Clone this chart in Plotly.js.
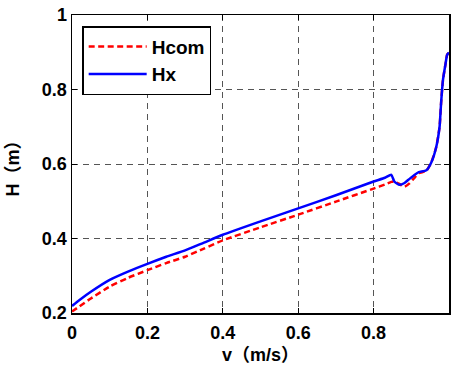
<!DOCTYPE html>
<html>
<head>
<meta charset="utf-8">
<script src="https://cdn.plot.ly/plotly-3.0.1.min.js"></script>
<style>html,body{margin:0;padding:0;background:#fff;}#chart{width:451px;height:365px;}</style>
</head>
<body>
<div id="chart"></div>
<script>
var v = [0, 0.02, 0.05, 0.1, 0.15, 0.2, 0.25, 0.3, 0.35, 0.4, 0.5, 0.6, 0.7, 0.8, 0.83, 0.847, 0.855, 0.869, 0.882, 0.895, 0.91, 0.92, 0.94, 0.953, 0.966, 0.975, 0.979, 0.984, 0.991, 0.995, 1.0];
var Hx = [0.219, 0.235, 0.257, 0.289, 0.312, 0.332, 0.351, 0.368, 0.389, 0.410, 0.446, 0.481, 0.516, 0.553, 0.563, 0.571, 0.553, 0.544, 0.549, 0.560, 0.572, 0.578, 0.583, 0.604, 0.645, 0.700, 0.763, 0.826, 0.870, 0.893, 0.899];
var Hcom = [0.204, 0.218, 0.239, 0.271, 0.295, 0.315, 0.334, 0.351, 0.373, 0.395, 0.430, 0.464, 0.499, 0.534, 0.545, 0.552, 0.553, 0.546, 0.539, 0.548, 0.565, 0.575, 0.582, 0.604, 0.645, 0.700, 0.763, 0.826, 0.870, 0.893, 0.899];
var xTicks = [0, 0.2, 0.4, 0.6, 0.8, 1];
var xTickText = ['0', '0.2', '0.4', '0.6', '0.8', '1'];
var yTicks = [0.2, 0.4, 0.6, 0.8, 1];
var yTickText = ['0.2', '0.4', '0.6', '0.8', '1'];

var fam = 'Liberation Sans, Arial, Noto Sans CJK SC, sans-serif';
var traces = [
  {x: v, y: Hcom, name: 'Hcom', mode: 'lines', line: {color: '#ff0000', width: 2.5, dash: '6px,3.5px', shape: 'spline', smoothing: 0.5}},
  {x: v, y: Hx, name: 'Hx', mode: 'lines', line: {color: '#0000ff', width: 2.5, shape: 'spline', smoothing: 0.5}}
];
var axisCommon = {
  showline: true, linecolor: '#000', linewidth: 1.5, mirror: 'ticks',
  ticks: 'inside', ticklen: 5, tickcolor: '#000', tickwidth: 1,
  showgrid: true, gridcolor: '#555', gridwidth: 1, griddash: '6px,5px',
  zeroline: false,
  tickfont: {family: fam, size: 18, color: '#000', weight: 'bold'}
};
var layout = {
  width: 451, height: 365,
  margin: {l: 72, r: 2, t: 15, b: 52},
  paper_bgcolor: '#fff', plot_bgcolor: '#fff',
  showlegend: true,
  legend: {
    x: 0.027, y: 0.963, xanchor: 'left', yanchor: 'top',
    bgcolor: '#fff', bordercolor: '#000', borderwidth: 1.5,
    font: {family: fam, size: 19, color: '#000', weight: 'bold'},
    itemwidth: 58, tracegroupgap: 0
  },
  xaxis: Object.assign({}, axisCommon, {
    range: [0, 1], tickmode: 'array', tickvals: xTicks, ticktext: xTickText,
    ticklabelstandoff: 3,
    title: {text: 'v（m/s）', font: {family: fam, size: 18, color: '#000', weight: 'bold'}, standoff: 11}
  }),
  yaxis: Object.assign({}, axisCommon, {
    range: [0.2, 1], tickmode: 'array', tickvals: yTicks, ticktext: yTickText,
    title: {text: 'H（m）', font: {family: fam, size: 18, color: '#000', weight: 'bold'}, standoff: 17}
  })
};
Plotly.newPlot('chart', traces, layout, {displayModeBar: false, staticPlot: true});
</script>
</body>
</html>
